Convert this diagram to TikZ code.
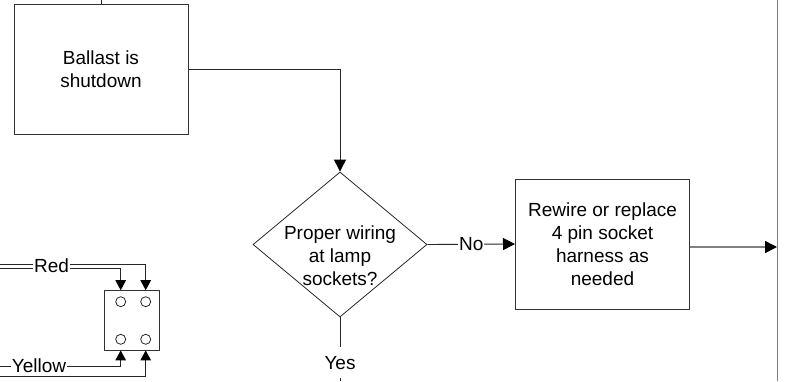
\documentclass[tikz,border=0pt]{standalone}
\usepackage{fontspec}
\setmainfont{Liberation Sans}
\usetikzlibrary{shapes.geometric,arrows.meta}
\begin{document}
\begin{tikzpicture}[x=1pt,y=-1pt,
  every node/.style={font=\fontsize{19}{23}\selectfont},
  box/.style={draw=black!80,line width=1pt,minimum width=174pt,minimum height=130pt,align=center,inner sep=0pt},
  decbox/.style={draw=black!85,line width=0.8pt,diamond,minimum width=174pt,minimum height=145pt,inner sep=0pt},
  wire/.style={draw=black!85,line width=0.9pt},
  tip/.style={-{Triangle[length=12pt,width=12pt,color=black]}},
  smalltip/.style={-{Triangle[length=10pt,width=10.5pt,color=black]}},
  arr/.style={wire,tip},
  sarr/.style={wire,smalltip},
  grayline/.style={draw=black!50,line width=1.6pt},
  lbl/.style={fill=white,inner sep=1pt},
  pin/.style={circle,draw=black!85,line width=0.8pt,minimum size=10pt,inner sep=0pt},
  sockbox/.style={draw=black!80,line width=0.9pt,minimum width=54.7pt,minimum height=59.3pt,inner sep=0pt},
]
\useasboundingbox (0,0) rectangle (785,381);
% main flow nodes
\node[box] (ballast) at (101,69) {Ballast is\\shutdown};
\node[decbox] (dec) at (340,244.5) {};
\node[align=center,inner sep=0pt] (dectext) at (340,255.5) {Proper wiring\\at lamp\\sockets?};
\node[box] (rewire) at (602.5,244) {Rewire or replace\\4 pin socket\\harness as\\needed};
\coordinate (ttop) at (102,0);
\coordinate (rtop) at (777.5,0);
\coordinate (rbot) at (777.5,381);
\coordinate (rin) at (777,247);
\coordinate (yend) at (340,381);
% connectors
\draw[wire] (ballast.north) -- (ballast.north |- ttop);
\draw[arr] (ballast.east) -| (dec.north);
\draw[arr] (dec.east) -- node[lbl] (no) {No} (rewire.west);
\draw[wire] (dec.south) -- node[pos=0.71,fill=white,inner xsep=1pt,inner ysep=9pt] (yes) {Yes} (yend);
\draw[grayline] (rtop) -- (rbot);
\draw[grayline,tip] (rewire.east |- rin) -- (rin);
% socket
\node[sockbox] (sock) at (131.7,320.3) {};
\node[pin] (p1) at (120.7,301.7) {};
\node[pin] (p2) at (145.7,301.7) {};
\node[pin] (p3) at (120.7,339.3) {};
\node[pin] (p4) at (145.7,339.3) {};
\coordinate (ra) at (0,264);
\coordinate (rb) at (0,268);
\coordinate (ya) at (0,366);
\coordinate (yb) at (0,376);
\draw[sarr] (ra) -| (p2 |- sock.north);
\draw[sarr] (rb) -| (p1 |- sock.north);
\draw[sarr] (ya) -| (p3 |- sock.south);
\draw[sarr] (yb) -| (p4 |- sock.south);
\node[lbl] (red) at (51.5,266) {Red};
\node[lbl] (yellow) at (39,366) {Yellow};
\end{tikzpicture}
\end{document}
